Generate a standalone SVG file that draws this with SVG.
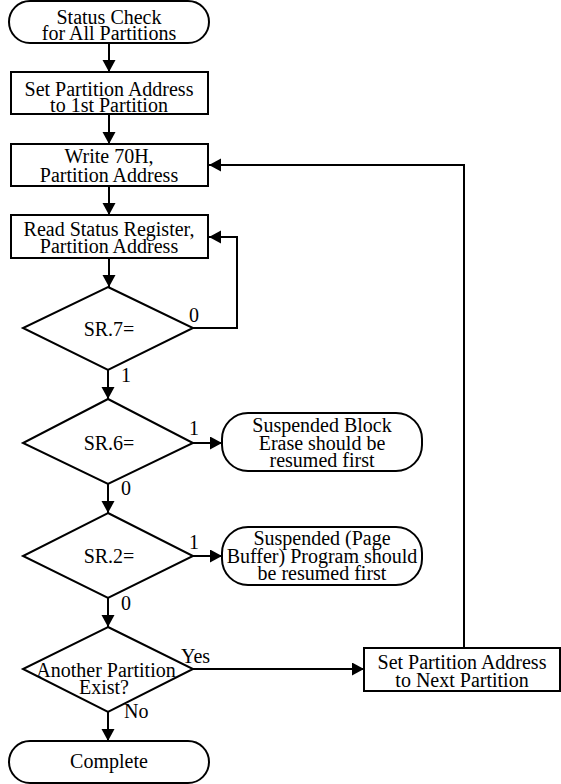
<svg xmlns="http://www.w3.org/2000/svg" width="561" height="784" viewBox="0 0 561 784" font-family="'Liberation Serif', 'DejaVu Serif', serif" font-size="20">
<style>
.s{fill:#fff;stroke:#000;stroke-width:2}
.c{fill:none;stroke:#000;stroke-width:2}
.m{text-anchor:middle}
</style>
<defs>
<marker id="ah" markerUnits="userSpaceOnUse" markerWidth="14" markerHeight="14" refX="12" refY="6.5" orient="auto">
<path d="M0,0 L12,6.5 L0,13 Z" fill="#000"/>
</marker>
</defs>
<rect width="561" height="784" fill="#fff"/>
<g id="connectors">
<line class="c" x1="109" y1="43" x2="109" y2="72" marker-end="url(#ah)"/>
<line class="c" x1="109" y1="114" x2="109" y2="144" marker-end="url(#ah)"/>
<line class="c" x1="109" y1="186" x2="109" y2="215" marker-end="url(#ah)"/>
<line class="c" x1="109" y1="258" x2="109" y2="287" marker-end="url(#ah)"/>
<polyline class="c" points="193,328 237,328 237,237 209,237" marker-end="url(#ah)"/>
<line class="c" x1="108" y1="370" x2="108" y2="399" marker-end="url(#ah)"/>
<line class="c" x1="193" y1="443" x2="222" y2="443" marker-end="url(#ah)"/>
<line class="c" x1="108" y1="484" x2="108" y2="513" marker-end="url(#ah)"/>
<line class="c" x1="193" y1="556" x2="222" y2="556" marker-end="url(#ah)"/>
<line class="c" x1="108" y1="598" x2="108" y2="627" marker-end="url(#ah)"/>
<line class="c" x1="193" y1="669" x2="364" y2="669" marker-end="url(#ah)"/>
<polyline class="c" points="464,648 464,165 209,165" marker-end="url(#ah)"/>
<line class="c" x1="108" y1="712" x2="108" y2="741" marker-end="url(#ah)"/>
<text x="189" y="322">0</text>
<text x="121" y="382">1</text>
<text x="189" y="435">1</text>
<text x="121" y="495">0</text>
<text x="189" y="549">1</text>
<text x="121" y="610">0</text>
<text x="181" y="663">Yes</text>
<text x="124" y="718">No</text>
</g>
<g id="start">
<rect class="s" x="9" y="1" width="200" height="42" rx="21"/>
<text class="m" x="109" y="24">Status Check</text>
<text class="m" x="109" y="40">for All Partitions</text>
</g>
<g id="set-first">
<rect class="s" x="11" y="72" width="197" height="42"/>
<text class="m" x="109" y="96">Set Partition Address</text>
<text class="m" x="109" y="112">to 1st Partition</text>
</g>
<g id="write70">
<rect class="s" x="11" y="144" width="197" height="42"/>
<text class="m" x="109" y="163">Write 70H,</text>
<text class="m" x="109" y="182">Partition Address</text>
</g>
<g id="read-status">
<rect class="s" x="11" y="215" width="197" height="43"/>
<text class="m" x="109" y="236">Read Status Register,</text>
<text class="m" x="109" y="253">Partition Address</text>
</g>
<g id="sr7">
<polygon class="s" points="108,287 193,328 108,370 23,328"/>
<text class="m" x="109" y="336">SR.7=</text>
</g>
<g id="sr6">
<polygon class="s" points="108,399 193,443 108,484 23,443"/>
<text class="m" x="109" y="450">SR.6=</text>
</g>
<g id="erase-msg">
<rect class="s" x="222" y="413" width="200" height="58" rx="26"/>
<text class="m" x="322" y="432">Suspended Block</text>
<text class="m" x="322" y="450">Erase should be</text>
<text class="m" x="322" y="467">resumed first</text>
</g>
<g id="sr2">
<polygon class="s" points="108,513 193,556 108,598 23,556"/>
<text class="m" x="109" y="563">SR.2=</text>
</g>
<g id="program-msg">
<rect class="s" x="222" y="527" width="200" height="58" rx="26"/>
<text class="m" x="322" y="545">Suspended (Page</text>
<text class="m" x="322" y="563">Buffer) Program should</text>
<text class="m" x="322" y="580">be resumed first</text>
</g>
<g id="another">
<polygon class="s" points="108,627 193,669 108,712 23,669"/>
<text class="m" x="106" y="677">Another Partition</text>
<text class="m" x="104" y="694">Exist?</text>
</g>
<g id="set-next">
<rect class="s" x="364" y="648" width="196" height="43"/>
<text class="m" x="462" y="669">Set Partition Address</text>
<text class="m" x="462" y="687">to Next Partition</text>
</g>
<g id="complete">
<rect class="s" x="9" y="741" width="200" height="42" rx="21"/>
<text class="m" x="109" y="768">Complete</text>
</g>
</svg>
